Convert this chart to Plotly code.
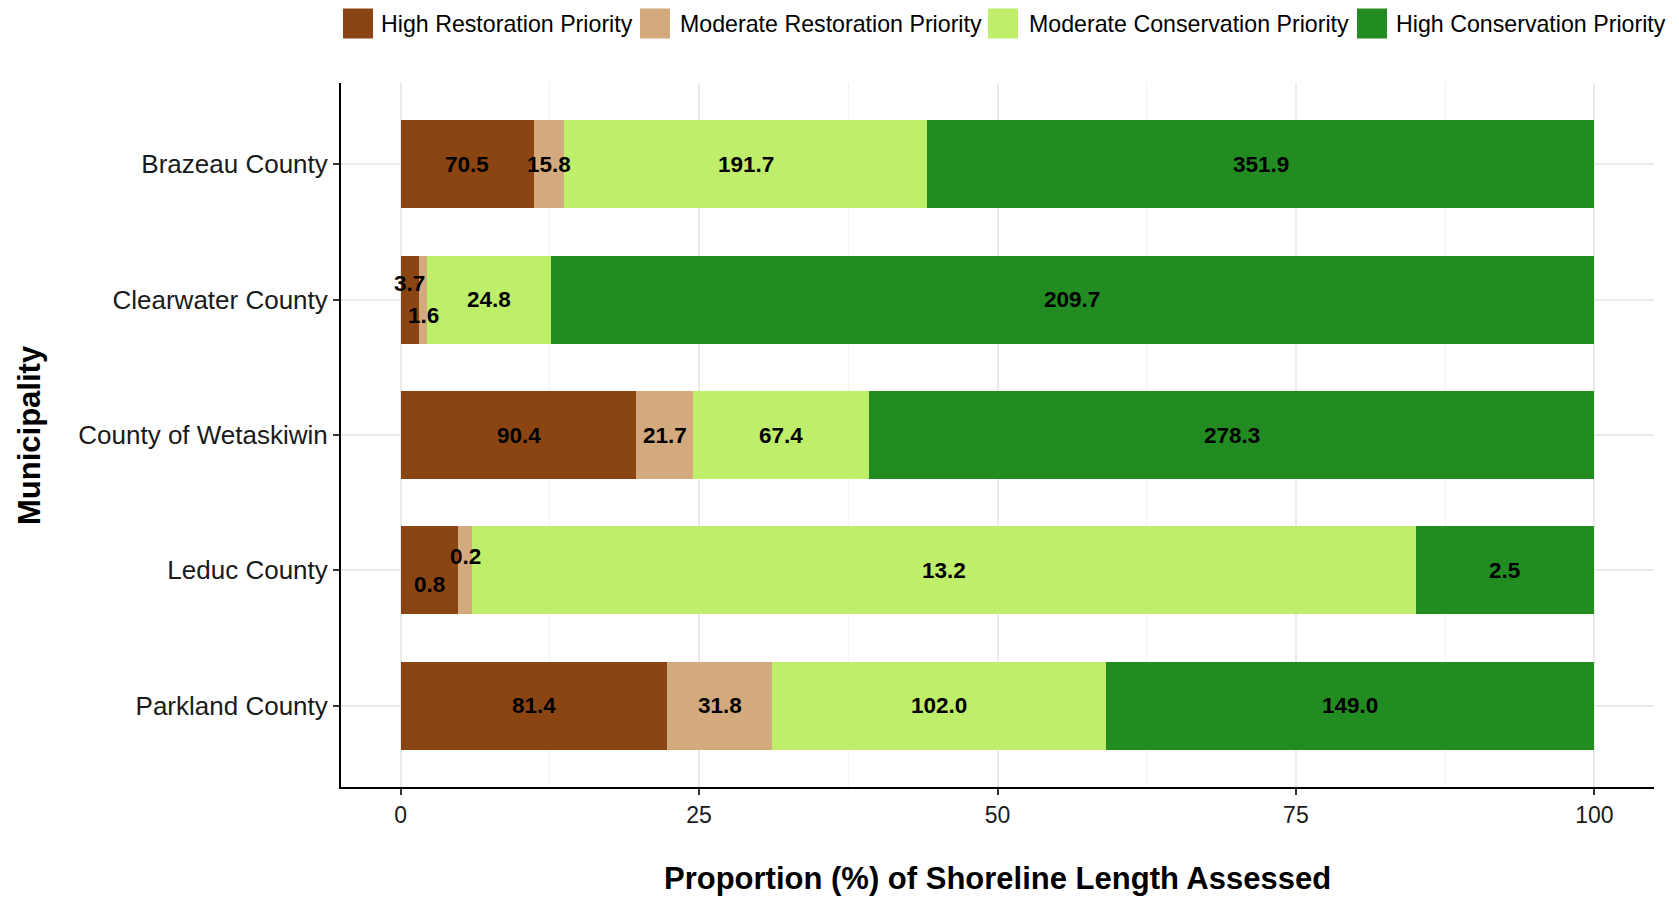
import plotly.graph_objects as go

# Shoreline length (km) assessed by priority class, per municipality
municipalities = ["Brazeau County", "Clearwater County", "County of Wetaskiwin",
                  "Leduc County", "Parkland County"]
categories = ["High Restoration Priority", "Moderate Restoration Priority",
              "Moderate Conservation Priority", "High Conservation Priority"]
high_restoration = [70.5, 3.7, 90.4, 0.8, 81.4]
moderate_restoration = [15.8, 1.6, 21.7, 0.2, 31.8]
moderate_conservation = [191.7, 24.8, 67.4, 13.2, 102.0]
high_conservation = [351.9, 209.7, 278.3, 2.5, 149.0]
x_ticks = [0, 25, 50, 75, 100]

colors = ["#8B4513", "#D2AA7D", "#BFEE6B", "#228B22"]
series = [high_restoration, moderate_restoration, moderate_conservation, high_conservation]

W, H = 1679, 898
L, R, T, B = 341, 25, 83, 111
FONT = "Liberation Sans, Arial, Helvetica, sans-serif"

totals = [sum(v) for v in zip(*series)]
pct = [[100 * v / t for v, t in zip(s, totals)] for s in series]

# vertical nudges for labels of very thin segments (avoid overlap)
nudge = {(0, 1): 16, (1, 1): -16, (0, 3): -14, (1, 3): 14}

fig = go.Figure()
annotations = []
for k, (name, vals, p, col) in enumerate(zip(categories, series, pct, colors)):
    fig.add_trace(go.Bar(
        y=municipalities, x=p, orientation="h", name=name,
        marker=dict(color=col, line=dict(width=0)),
        width=0.65, showlegend=False, hoverinfo="skip",
    ))
    for i, m in enumerate(municipalities):
        start = sum(pct[j][i] for j in range(k))
        annotations.append(dict(
            x=start + p[i] / 2, y=m, xref="x", yref="y",
            text=f"<b>{vals[i]:.1f}</b>", showarrow=False,
            yshift=nudge.get((k, i), 0),
            font=dict(family=FONT, size=22.5, color="black"),
        ))

pw, ph = W - L - R, H - T - B


def px(xp):
    return (xp - L) / pw


def py(yp):
    return (H - B - yp) / ph


# legend drawn as key boxes + labels above the panel
shapes = []
key_left = [343, 640, 988, 1357]
text_left = [379, 678, 1027, 1394]
for k, name in enumerate(categories):
    shapes.append(dict(type="rect", xref="paper", yref="paper",
                       x0=px(key_left[k]), x1=px(key_left[k] + 30),
                       y0=py(38.5), y1=py(8.5),
                       fillcolor=colors[k], line=dict(width=0)))
    annotations.append(dict(x=px(text_left[k]), y=py(23.5), xref="paper", yref="paper",
                            text=name, showarrow=False, xanchor="left", yanchor="middle",
                            font=dict(family=FONT, size=23.2, color="black")))

annotations.append(dict(x=px((L + W - R) / 2), y=py(878), xref="paper", yref="paper",
                        text="<b>Proportion (%) of Shoreline Length Assessed</b>",
                        showarrow=False, xanchor="center", yanchor="middle",
                        font=dict(family=FONT, size=31, color="black")))
annotations.append(dict(x=px(29), y=py((T + H - B) / 2), xref="paper", yref="paper",
                        text="<b>Municipality</b>", textangle=-90,
                        showarrow=False, xanchor="center", yanchor="middle",
                        font=dict(family=FONT, size=31, color="black")))

fig.update_layout(
    barmode="stack", bargap=0,
    width=W, height=H,
    margin=dict(l=L, r=R, t=T, b=B, pad=0),
    plot_bgcolor="white", paper_bgcolor="white",
    font=dict(family=FONT, size=23, color="black"),
    annotations=annotations, shapes=shapes,
    xaxis=dict(
        range=[-5, 105], tickvals=x_ticks, ticktext=[str(v) for v in x_ticks],
        showgrid=True, gridcolor="#EBEBEB", gridwidth=1.5,
        minor=dict(tickvals=[12.5, 37.5, 62.5, 87.5], showgrid=True,
                   gridcolor="#F3F3F3", gridwidth=1, ticks=""),
        zeroline=False, showline=True, linecolor="black", linewidth=2,
        ticks="outside", ticklen=6, tickcolor="#333333", tickwidth=1.5,
        tickfont=dict(size=23, color="#1a1a1a"),
    ),
    yaxis=dict(
        categoryorder="array", categoryarray=municipalities[::-1],
        range=[-0.6, 4.6],
        showgrid=True, gridcolor="#EBEBEB", gridwidth=1.5,
        zeroline=False, showline=True, linecolor="black", linewidth=2,
        ticks="outside", ticklen=6, tickcolor="#333333", tickwidth=1.5,
        tickfont=dict(size=26, color="#1a1a1a"),
    ),
)

fig.write_html("out.html")
